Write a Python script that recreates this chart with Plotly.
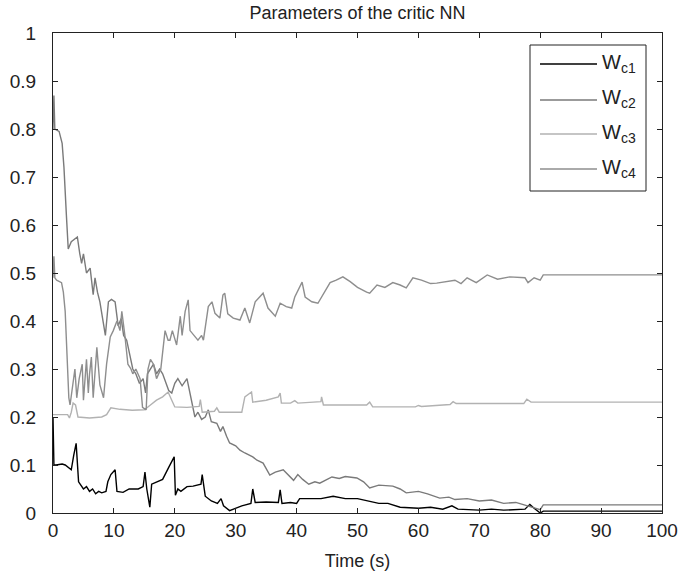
import plotly.graph_objects as go

# ---- data ----
t_wc1 = [0, 0.15, 0.5, 1.5, 2.0, 2.5, 3.0, 3.4, 3.8, 4.2, 4.5, 5.0, 5.5, 6.0, 6.5, 7.0, 7.5, 8.0, 8.7, 9.0, 9.5,
         10.2, 10.5, 11.5, 12.5, 14.0, 14.8, 15.1, 15.4, 15.9, 16.2, 17.0, 18.0, 19.0, 19.9, 20.1, 20.5, 21.0,
         22.0, 23.0, 24.3, 24.5, 25.0, 26.0, 27.0, 27.6, 28.0, 29.0, 30.0, 31.0, 32.5, 32.8, 33.2, 35.0, 37.0,
         37.3, 37.6, 39.0, 40.0, 40.5, 42.0, 44.0, 46.0, 48.0, 50.0, 52.0, 53.5, 55.0, 57.0, 60.0, 62.0, 64.0,
         65.5, 66.5, 70.0, 72.0, 74.0, 77.5, 78.3, 79.0, 80.0, 80.5, 100]
wc1 = [0.20, 0.10, 0.10, 0.102, 0.10, 0.095, 0.09, 0.12, 0.145, 0.065, 0.06, 0.05, 0.055, 0.045, 0.05, 0.04,
       0.045, 0.042, 0.045, 0.065, 0.08, 0.09, 0.045, 0.043, 0.05, 0.05, 0.055, 0.085, 0.05, 0.012, 0.06, 0.065,
       0.07, 0.095, 0.117, 0.037, 0.05, 0.045, 0.055, 0.056, 0.06, 0.08, 0.035, 0.025, 0.02, 0.03, 0.015, 0.005,
       0.01, 0.015, 0.02, 0.05, 0.022, 0.023, 0.022, 0.048, 0.02, 0.022, 0.02, 0.03, 0.03, 0.03, 0.035, 0.03,
       0.03, 0.025, 0.02, 0.02, 0.012, 0.01, 0.012, 0.008, 0.015, 0.008, 0.006, 0.008, 0.006, 0.008, 0.018,
       0.01, 0.0, 0.004, 0.004]

t_wc2 = [0, 0.15, 0.3, 1.0, 1.5, 1.8, 2.2, 2.5, 3.0, 3.5, 4.0, 4.4, 4.7, 5.0, 5.5, 6.1, 6.6, 6.9, 7.3, 7.7,
         8.2, 8.6, 9.1, 9.6, 10.2, 10.7, 11.2, 11.6, 12.1, 12.6, 13.1, 13.6, 14.2, 14.8, 15.2, 15.5, 16.0,
         16.5, 17.0, 17.5, 18.0, 18.5, 19.0, 19.5, 20.0, 20.5, 21.2, 22.0, 22.5, 23.3, 23.8, 24.4, 25.0, 25.5,
         26.0, 26.9, 27.5, 27.9, 28.5, 29.0, 30.0, 30.7, 31.5, 32.8, 33.5, 34.5, 35.6, 36.5, 37.8, 38.9, 39.5,
         40.2, 41.0, 42.0, 43.0, 43.8, 45.0, 45.8, 47.0, 48.0, 49.9, 51.0, 52.0, 53.5, 55.8, 57.0, 58.0, 60.0,
         61.5, 63.5, 65.0, 66.0, 68.0, 70.0, 72.0, 74.0, 76.0, 78.0, 79.0, 80.0, 80.5, 100]
wc2 = [0.80, 0.87, 0.80, 0.795, 0.77, 0.72, 0.62, 0.55, 0.565, 0.57, 0.575, 0.54, 0.52, 0.54, 0.50, 0.51,
       0.455, 0.49, 0.46, 0.44, 0.40, 0.37, 0.44, 0.445, 0.44, 0.39, 0.405, 0.37, 0.36, 0.33, 0.30, 0.29,
       0.27, 0.28, 0.25, 0.29, 0.30, 0.31, 0.29, 0.30, 0.29, 0.27, 0.255, 0.25, 0.27, 0.28, 0.265, 0.28,
       0.25, 0.20, 0.21, 0.195, 0.20, 0.215, 0.19, 0.187, 0.17, 0.18, 0.16, 0.146, 0.14, 0.131, 0.125, 0.117,
       0.11, 0.104, 0.079, 0.085, 0.09, 0.076, 0.068, 0.08, 0.07, 0.06, 0.065, 0.062, 0.07, 0.075, 0.072,
       0.076, 0.073, 0.065, 0.052, 0.058, 0.056, 0.05, 0.042, 0.045, 0.04, 0.031, 0.033, 0.028, 0.03, 0.025,
       0.027, 0.02, 0.022, 0.015, 0.012, 0.007, 0.017, 0.017]

t_wc3 = [0, 2.4, 2.7, 3.0, 3.3, 3.7, 4.1, 6.0, 8.0, 8.8, 9.5, 11.0, 13.0, 15.0, 16.0, 17.0, 18.0, 18.9, 19.5,
         20.0, 22.0, 24.0, 24.2, 24.5, 26.5, 26.9, 27.3, 31.0, 31.5, 32.6, 32.8, 35.0, 37.0, 37.3, 37.5, 39.0,
         39.7, 40.2, 44.0, 44.1, 44.4, 51.5, 52.0, 52.5, 59.5, 60.0, 60.5, 63.0, 65.2, 65.7, 66.2, 77.3, 77.8,
         78.5, 100]
wc3 = [0.205, 0.205, 0.198, 0.21, 0.229, 0.225, 0.20, 0.198, 0.20, 0.205, 0.219, 0.216, 0.214, 0.215, 0.225,
       0.235, 0.242, 0.252, 0.235, 0.221, 0.22, 0.222, 0.236, 0.21, 0.212, 0.219, 0.21, 0.21, 0.242, 0.252,
       0.231, 0.235, 0.242, 0.25, 0.229, 0.229, 0.234, 0.229, 0.232, 0.242, 0.225, 0.225, 0.231, 0.221, 0.221,
       0.224, 0.222, 0.224, 0.226, 0.232, 0.228, 0.228, 0.237, 0.231, 0.231]

t_wc4 = [0, 0.15, 0.3, 0.6, 1.4, 1.7, 2.0, 2.3, 2.6, 2.8, 3.2, 3.6, 3.9, 4.3, 4.8, 5.0, 5.5, 5.8, 6.0, 6.3,
         6.6, 7.0, 7.2, 7.7, 8.3, 8.8, 9.4, 9.9, 10.5, 11.0, 11.3, 11.8, 12.3, 12.8, 13.1, 13.6, 14.3, 14.7,
         15.3, 15.6, 16.0, 16.5, 17.0, 17.7, 18.4, 18.9, 19.2, 19.6, 20.3, 20.9, 21.2, 21.7, 22.2, 22.5, 23.2,
         23.8, 24.4, 24.7, 25.5, 26.1, 26.6, 27.4, 27.9, 28.2, 28.7, 29.6, 30.7, 31.5, 32.3, 33.2, 34.5, 35.3,
         36.5, 37.3, 38.3, 39.2, 39.7, 40.9, 41.4, 42.5, 43.5, 44.5, 45.5, 46.5, 47.6, 48.8, 50.0, 51.5, 52.0,
         53.2, 54.5, 55.8, 57.0, 58.0, 59.1, 60.5, 62.0, 63.0, 64.7, 66.0, 67.0, 68.0, 69.5, 71.3, 73.0, 75.0,
         77.5, 78.0, 79.0, 80.0, 80.5, 100]
wc4 = [0.49, 0.535, 0.49, 0.485, 0.48, 0.46, 0.42, 0.32, 0.24, 0.225, 0.26, 0.30, 0.24, 0.28, 0.31, 0.235,
       0.32, 0.25, 0.29, 0.325, 0.24, 0.30, 0.345, 0.267, 0.24, 0.31, 0.367, 0.38, 0.40, 0.38, 0.42, 0.37,
       0.31, 0.30, 0.29, 0.30, 0.28, 0.22, 0.215, 0.30, 0.32, 0.31, 0.28, 0.30, 0.38, 0.36, 0.36, 0.38, 0.35,
       0.41, 0.37, 0.42, 0.444, 0.38, 0.37, 0.36, 0.37, 0.36, 0.43, 0.44, 0.416, 0.406, 0.454, 0.458, 0.415,
       0.406, 0.402, 0.427, 0.396, 0.44, 0.458, 0.427, 0.41, 0.437, 0.43, 0.427, 0.45, 0.481, 0.45, 0.44,
       0.437, 0.46, 0.48, 0.485, 0.492, 0.482, 0.47, 0.46, 0.458, 0.475, 0.47, 0.48, 0.475, 0.469, 0.49,
       0.485, 0.478, 0.479, 0.482, 0.485, 0.478, 0.49, 0.48, 0.496, 0.487, 0.492, 0.49, 0.48, 0.49, 0.485,
       0.496, 0.496]

names = ["W<sub>c1</sub>", "W<sub>c2</sub>", "W<sub>c3</sub>", "W<sub>c4</sub>"]
x_ticks = [0, 10, 20, 30, 40, 50, 60, 70, 80, 90, 100]
y_ticks = [0, 0.1, 0.2, 0.3, 0.4, 0.5, 0.6, 0.7, 0.8, 0.9, 1]
y_tick_text = ["0", "0.1", "0.2", "0.3", "0.4", "0.5", "0.6", "0.7", "0.8", "0.9", "1"]
colors = ["#000000", "#7a7a7a", "#b2b2b2", "#8e8e8e"]

series = [(t_wc1, wc1), (t_wc2, wc2), (t_wc3, wc3), (t_wc4, wc4)]

# plot area geometry in pixels (for the hand-drawn legend box)
L, R, T, B = 53, 662, 33, 513
W_PX, H_PX = R - L, B - T


def px(xp):
    return (xp - L) / W_PX


def py(yp):
    return (B - yp) / H_PX


fig = go.Figure()
for i, (tx, vy) in enumerate(series):
    fig.add_trace(go.Scatter(x=tx, y=vy, mode="lines", name=names[i], showlegend=False,
                             line=dict(color=colors[i], width=1.4)))

font_family = "Liberation Sans, Arial, sans-serif"
shapes = [dict(type="rect", xref="paper", yref="paper", x0=px(530), x1=px(646), y0=py(191), y1=py(45),
               line=dict(color="#222", width=1), fillcolor="white", layer="above")]
annotations = []
rows = [64, 100, 134, 169]
for i, ry in enumerate(rows):
    shapes.append(dict(type="line", xref="paper", yref="paper", x0=px(540), x1=px(597), y0=py(ry), y1=py(ry),
                       line=dict(color=colors[i], width=1.4), layer="above"))
    annotations.append(dict(xref="paper", yref="paper", x=px(600), y=py(ry - 1), xanchor="left",
                            yanchor="middle", text=names[i], showarrow=False,
                            font=dict(size=20, color="#222", family=font_family)))

fig.update_layout(
    width=679, height=578,
    margin=dict(l=L, r=679 - R, t=T, b=578 - B, autoexpand=False),
    paper_bgcolor="white", plot_bgcolor="white",
    font=dict(family=font_family, size=19, color="#222"),
    title=dict(text="Parameters of the critic NN", x=0.5 * (L + R) / 679, xanchor="center",
               y=1 - 13 / 578, yanchor="middle", font=dict(size=18, color="#222")),
    showlegend=False,
    shapes=shapes,
    annotations=annotations,
    xaxis=dict(range=[0, 100], tickvals=x_ticks, ticks="inside", ticklen=5, tickcolor="#222",
               showline=True, linecolor="#222", linewidth=1, mirror="ticks", showgrid=False,
               zeroline=False, automargin=False,
               title=dict(text="Time (s)", standoff=14, font=dict(size=18)),
               tickfont=dict(size=19)),
    yaxis=dict(range=[0, 1], tickvals=y_ticks, ticktext=y_tick_text, ticks="inside", ticklen=5,
               tickcolor="#222", showline=True, linecolor="#222", linewidth=1, mirror="ticks",
               showgrid=False, zeroline=False, automargin=False, tickfont=dict(size=19),
               ticklabelstandoff=12),
)

fig.write_html("out.html")
